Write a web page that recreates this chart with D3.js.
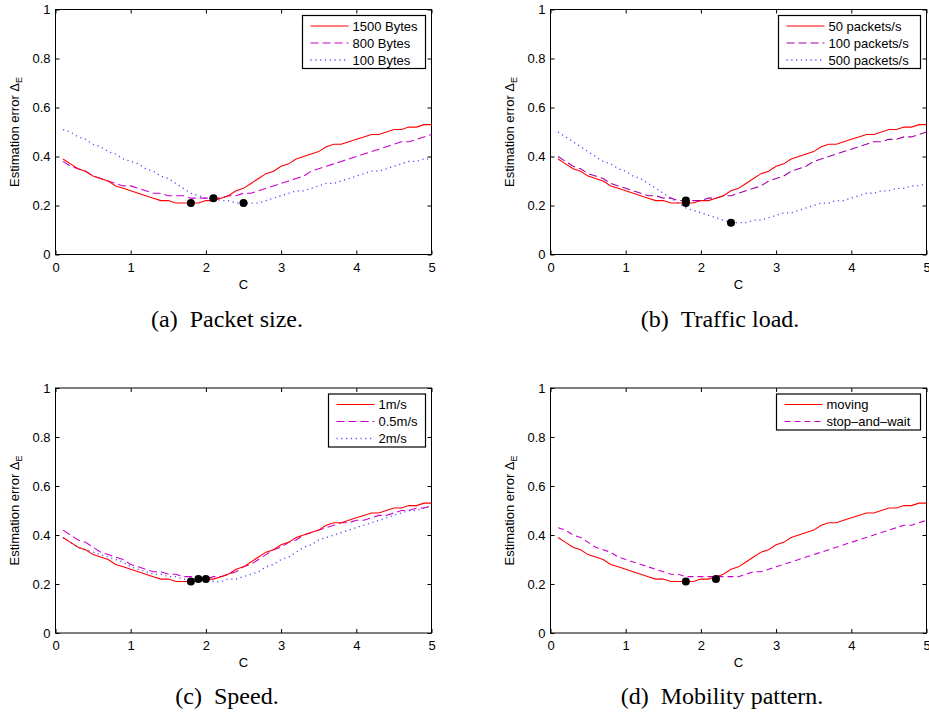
<!DOCTYPE html>
<html>
<head>
<meta charset="utf-8">
<script src="https://cdnjs.cloudflare.com/ajax/libs/d3/7.8.5/d3.min.js"></script>
<style>
  body { margin: 0; background: #fff; }
  svg { display: block; }
  .tick text { font-family: "Liberation Sans", Arial, sans-serif; font-size: 13px; fill: #000; }
  .tick line { stroke: #000; }
</style>
</head>
<body>
<div id="chart"></div>
<script>
// C values on the x axis
var cValues = [0.1, 0.2, 0.3, 0.4, 0.5, 0.6, 0.7, 0.8, 0.9, 1.0,
               1.1, 1.2, 1.3, 1.4, 1.5, 1.6, 1.7, 1.8, 1.9, 2.0,
               2.1, 2.2, 2.3, 2.4, 2.5, 2.6, 2.7, 2.8, 2.9, 3.0,
               3.1, 3.2, 3.3, 3.4, 3.5, 3.6, 3.7, 3.8, 3.9, 4.0,
               4.1, 4.2, 4.3, 4.4, 4.5, 4.6, 4.7, 4.8, 4.9, 5.0];

// baseline run (1500 Bytes / 50 packets/s / 1m/s / moving), same in every panel
var baseline = [0.39, 0.37, 0.35, 0.34, 0.32, 0.31, 0.30, 0.28, 0.27, 0.26,
                0.25, 0.24, 0.23, 0.22, 0.22, 0.21, 0.21, 0.21, 0.21, 0.22,
                0.22, 0.23, 0.24, 0.26, 0.27, 0.29, 0.31, 0.33, 0.34, 0.36,
                0.37, 0.39, 0.40, 0.41, 0.42, 0.44, 0.45, 0.45, 0.46, 0.47,
                0.48, 0.49, 0.49, 0.50, 0.51, 0.51, 0.52, 0.52, 0.53, 0.53];

// (a) packet size
var bytes800 = [0.38, 0.36, 0.35, 0.34, 0.32, 0.31, 0.30, 0.29, 0.28, 0.28,
                0.27, 0.26, 0.25, 0.25, 0.24, 0.24, 0.24, 0.23, 0.23, 0.23,
                0.23, 0.23, 0.24, 0.24, 0.25, 0.25, 0.26, 0.27, 0.28, 0.29,
                0.30, 0.31, 0.32, 0.34, 0.35, 0.36, 0.37, 0.38, 0.39, 0.40,
                0.41, 0.42, 0.43, 0.44, 0.45, 0.46, 0.46, 0.47, 0.48, 0.49];
var bytes100 = [0.51, 0.50, 0.48, 0.47, 0.45, 0.44, 0.42, 0.41, 0.39, 0.38,
                0.37, 0.35, 0.34, 0.32, 0.31, 0.29, 0.27, 0.25, 0.24, 0.23,
                0.23, 0.22, 0.22, 0.21, 0.21, 0.21, 0.21, 0.22, 0.23, 0.24,
                0.25, 0.26, 0.26, 0.27, 0.28, 0.29, 0.29, 0.30, 0.31, 0.32,
                0.33, 0.34, 0.34, 0.35, 0.36, 0.37, 0.38, 0.38, 0.39, 0.39];

// (b) traffic load
var pkt100 = [0.40, 0.38, 0.36, 0.35, 0.33, 0.32, 0.31, 0.29, 0.28, 0.27,
              0.26, 0.25, 0.24, 0.24, 0.23, 0.23, 0.22, 0.22, 0.22, 0.22,
              0.23, 0.23, 0.24, 0.24, 0.25, 0.26, 0.27, 0.28, 0.30, 0.31,
              0.32, 0.34, 0.35, 0.36, 0.38, 0.39, 0.40, 0.41, 0.42, 0.43,
              0.44, 0.45, 0.46, 0.46, 0.47, 0.47, 0.48, 0.48, 0.49, 0.50];
var pkt500 = [0.50, 0.48, 0.46, 0.44, 0.42, 0.40, 0.38, 0.37, 0.35, 0.34,
              0.32, 0.31, 0.29, 0.27, 0.25, 0.23, 0.21, 0.19, 0.18, 0.17,
              0.16, 0.15, 0.14, 0.13, 0.13, 0.13, 0.14, 0.14, 0.15, 0.16,
              0.17, 0.17, 0.18, 0.19, 0.20, 0.21, 0.21, 0.22, 0.22, 0.23,
              0.24, 0.25, 0.25, 0.26, 0.26, 0.27, 0.27, 0.28, 0.28, 0.29];

// (c) speed
var speed05 = [0.42, 0.40, 0.38, 0.37, 0.35, 0.33, 0.32, 0.31, 0.30, 0.28,
               0.27, 0.26, 0.25, 0.25, 0.24, 0.24, 0.23, 0.23, 0.22, 0.22,
               0.23, 0.23, 0.24, 0.25, 0.27, 0.28, 0.30, 0.32, 0.34, 0.35,
               0.37, 0.38, 0.40, 0.41, 0.42, 0.43, 0.44, 0.45, 0.45, 0.46,
               0.46, 0.47, 0.48, 0.48, 0.49, 0.50, 0.50, 0.51, 0.51, 0.52];
var speed2 = [0.39, 0.37, 0.35, 0.34, 0.33, 0.32, 0.31, 0.30, 0.29, 0.27,
              0.26, 0.25, 0.24, 0.24, 0.23, 0.23, 0.22, 0.22, 0.22, 0.22,
              0.21, 0.21, 0.22, 0.22, 0.23, 0.24, 0.25, 0.27, 0.28, 0.30,
              0.31, 0.33, 0.35, 0.36, 0.38, 0.39, 0.40, 0.41, 0.42, 0.43,
              0.44, 0.45, 0.46, 0.47, 0.48, 0.49, 0.50, 0.50, 0.51, 0.52];

// (d) mobility pattern
var stopWait = [0.43, 0.42, 0.40, 0.39, 0.37, 0.35, 0.34, 0.33, 0.31, 0.30,
                0.29, 0.28, 0.27, 0.26, 0.25, 0.24, 0.24, 0.23, 0.23, 0.23,
                0.23, 0.23, 0.23, 0.23, 0.23, 0.24, 0.25, 0.25, 0.26, 0.27,
                0.28, 0.29, 0.30, 0.31, 0.32, 0.33, 0.34, 0.35, 0.36, 0.37,
                0.38, 0.39, 0.40, 0.41, 0.42, 0.43, 0.44, 0.44, 0.45, 0.46];

// minimum points marked with black dots [C, error]
var minA = [[1.8, 0.21], [2.1, 0.23], [2.5, 0.21]];
var minB = [[1.8, 0.21], [1.8, 0.22], [2.4, 0.13]];
var minC = [[1.8, 0.21], [1.9, 0.22], [2.0, 0.22]];
var minD = [[1.8, 0.21], [2.2, 0.22]];

var xTicks = [0, 1, 2, 3, 4, 5];
var yTicks = [0, 0.2, 0.4, 0.6, 0.8, 1];

var legendA = ["1500 Bytes", "800 Bytes", "100 Bytes"];
var legendB = ["50 packets/s", "100 packets/s", "500 packets/s"];
var legendC = ["1m/s", "0.5m/s", "2m/s"];
var legendD = ["moving", "stop\u2013and\u2013wait"];

var captions = ["(a)\u2002Packet size.", "(b)\u2002Traffic load.", "(c)\u2002Speed.", "(d)\u2002Mobility pattern."];

// line styles: solid red, dashed magenta, dotted blue
var styles = [
    { color: "#ff0000", dash: null },
    { color: "#cc00cc", dash: "8,4" },
    { color: "#4d4dff", dash: "1.2,3.6" }
];

var panels = [
    { left: 55.5, top: 9.5, series: [baseline, bytes800, bytes100], names: legendA, dots: minA, legendW: 123, caption: captions[0], capX: 227, capY: 320 },
    { left: 550.5, top: 9.5, series: [baseline, pkt100, pkt500], names: legendB, dots: minB, legendW: 142, caption: captions[1], capX: 720, capY: 320, dashColor: "#a000a8" },
    { left: 55.5, top: 388, series: [baseline, speed05, speed2], names: legendC, dots: minC, legendW: 97, caption: captions[2], capX: 227, capY: 697 },
    { left: 550.5, top: 388, series: [baseline, stopWait], names: legendD, dots: minD, legendW: 144, caption: captions[3], capX: 722, capY: 697, dashLen: "6,4" }
];

var plotW = 376;
var plotH = 245;

var svg = d3.select("#chart")
    .append("svg")
    .attr("width", 929)
    .attr("height", 718);

panels.forEach(function(p) {
    var x = d3.scaleLinear().domain([0, 5]).range([0, plotW]);
    var y = d3.scaleLinear().domain([0, 1]).range([plotH, 0]);

    var g = svg.append("g").attr("transform", "translate(" + p.left + "," + p.top + ")");

    // ticks point inward, MATLAB style, on all four sides
    g.append("g")
        .attr("transform", "translate(0," + plotH + ")")
        .call(d3.axisBottom(x).tickValues(xTicks).tickSizeInner(-4).tickSizeOuter(0).tickPadding(8).tickFormat(d3.format("d")))
        .call(function(a) { a.select(".domain").remove(); });
    g.append("g")
        .call(d3.axisTop(x).tickValues(xTicks).tickSizeInner(-4).tickSizeOuter(0).tickFormat(""))
        .call(function(a) { a.select(".domain").remove(); });
    g.append("g")
        .call(d3.axisLeft(y).tickValues(yTicks).tickSizeInner(-4).tickSizeOuter(0).tickPadding(5)
            .tickFormat(function(d) { return (d === 0 || d === 1) ? d3.format("d")(d) : d3.format(".1f")(d); }))
        .call(function(a) { a.select(".domain").remove(); });
    g.append("g")
        .attr("transform", "translate(" + plotW + ",0)")
        .call(d3.axisRight(y).tickValues(yTicks).tickSizeInner(-4).tickSizeOuter(0).tickFormat(""))
        .call(function(a) { a.select(".domain").remove(); });

    g.append("rect")
        .attr("width", plotW)
        .attr("height", plotH)
        .attr("fill", "none")
        .attr("stroke", "#000")
        .attr("stroke-width", 1);

    // axis labels
    g.append("text")
        .attr("x", plotW / 2)
        .attr("y", plotH + 34)
        .attr("text-anchor", "middle")
        .style("font-family", "Liberation Sans, Arial, sans-serif")
        .style("font-size", "13px")
        .text("C");

    var yl = g.append("text")
        .attr("transform", "translate(-37," + (plotH / 2) + ") rotate(-90)")
        .attr("text-anchor", "middle")
        .style("font-family", "Liberation Sans, Arial, sans-serif")
        .style("font-size", "13px");
    yl.append("tspan").text("Estimation error \u0394");
    yl.append("tspan").attr("dy", 3).style("font-size", "9px").text("E");

    var line = d3.line()
        .x(function(d, i) { return x(cValues[i]); })
        .y(function(d) { return y(d); });

    function styleOf(i) {
        var s = styles[i];
        var color = (i === 1 && p.dashColor) ? p.dashColor : s.color;
        var dash = (i === 1 && p.dashLen) ? p.dashLen : s.dash;
        return { color: color, dash: dash };
    }

    // draw dotted first so the solid red sits on top
    p.series.map(function(s, i) { return i; }).reverse().forEach(function(i) {
        var st = styleOf(i);
        g.append("path")
            .datum(p.series[i])
            .attr("d", line)
            .attr("fill", "none")
            .attr("stroke", st.color)
            .attr("stroke-width", i === 2 ? 1.3 : 1.1)
            .attr("stroke-dasharray", st.dash);
    });

    g.selectAll(".dot")
        .data(p.dots)
        .enter().append("circle")
        .attr("class", "dot")
        .attr("cx", function(d) { return x(d[0]); })
        .attr("cy", function(d) { return y(d[1]); })
        .attr("r", 4)
        .attr("fill", "#000");

    // legend box in the top right corner
    var lh = 17;
    var lgH = p.names.length * lh + 2;
    var lg = g.append("g").attr("transform", "translate(" + (plotW - 6 - p.legendW) + ",6)");
    lg.append("rect")
        .attr("width", p.legendW)
        .attr("height", lgH)
        .attr("fill", "#fff")
        .attr("stroke", "#000")
        .attr("stroke-width", 1.2);

    p.names.forEach(function(name, i) {
        var st = styleOf(i);
        var cy = 10.5 + i * lh;
        lg.append("line")
            .attr("x1", 8).attr("x2", 46)
            .attr("y1", cy).attr("y2", cy)
            .attr("stroke", st.color)
            .attr("stroke-width", i === 2 ? 1.3 : 1.2)
            .attr("stroke-dasharray", st.dash);
        lg.append("text")
            .attr("x", 50)
            .attr("y", cy)
            .attr("dy", "0.36em")
            .style("font-family", "Liberation Sans, Arial, sans-serif")
            .style("font-size", "13px")
            .text(name);
    });

    svg.append("text")
        .attr("x", p.capX)
        .attr("y", p.capY + 7)
        .attr("text-anchor", "middle")
        .style("font-family", "Liberation Serif, Times New Roman, serif")
        .style("font-size", "24px")
        .text(p.caption);
});
</script>
</body>
</html>
